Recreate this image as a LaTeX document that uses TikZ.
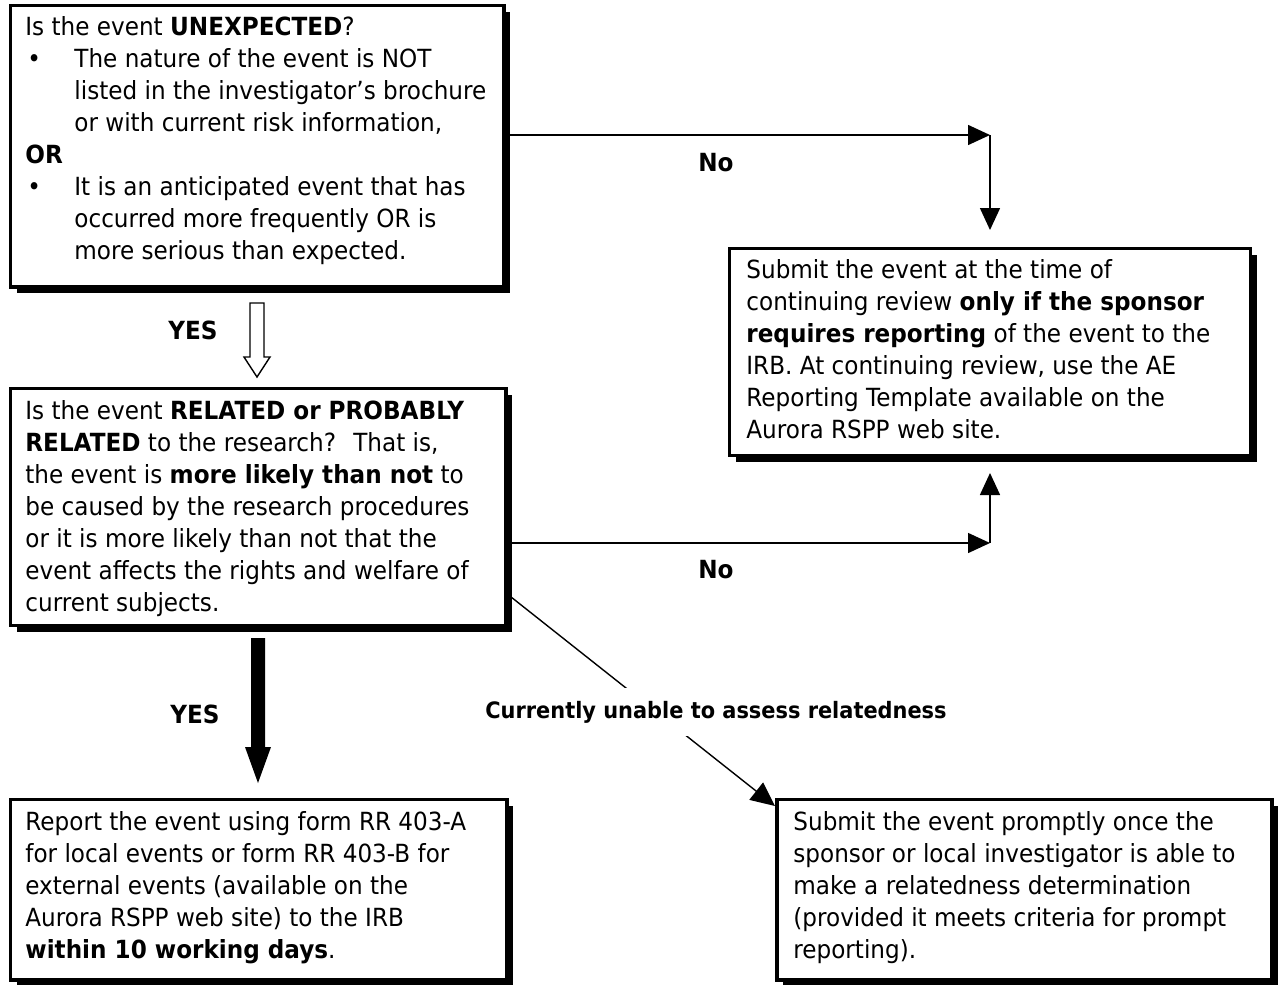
\documentclass[tikz,border=0pt]{standalone}
\usepackage{fontspec}
\setmainfont{DejaVu Sans}[FakeStretch=0.925]
\usetikzlibrary{arrows.meta,shadows,calc}
\newcommand\firststrut{\rule{0pt}{10pt}}
\newcommand\bul{\makebox[24.5pt][l]{\hspace{1pt}•}}
\newcommand\ind{\hspace*{24.5pt}}
\begin{document}
\begin{tikzpicture}[x=0.5pt,y=-0.5pt,
  box/.style={draw, line width=1.6pt, fill=white, inner sep=0pt, outer sep=0pt, anchor=north west,
    drop shadow={shadow xshift=3pt, shadow yshift=-3pt, fill=black, opacity=1}},
  txt/.style={anchor=north west, inner sep=0pt, align=left, font=\fontsize{12.5}{16}\selectfont},
  lbl/.style={font=\fontsize{12.5}{16}\selectfont\bfseries, inner sep=0pt},
  conn/.style={line width=0.75pt, -{Triangle[length=11pt,width=10pt]}},
  thin/.style={line width=0.7pt},
]
\useasboundingbox (0,0) rectangle (1280,985);

% boxes
\node[box, minimum width=246.75pt, minimum height=140.75pt] (b1) at (10.5,5.5) {};
\node[box, minimum width=260.5pt, minimum height=103.5pt] (b2) at (729.5,248.5) {};
\node[box, minimum width=247.75pt, minimum height=118.5pt] (b3) at (10.5,388.5) {};
\node[box, minimum width=248.25pt, minimum height=90.25pt] (b4) at (10.5,799.5) {};
\node[box, minimum width=247.5pt, minimum height=90.25pt] (b5) at (777,799.5) {};

% texts
\node[txt] (t1) at (25,15.5) {\firststrut Is the event \textbf{UNEXPECTED}?\\
\bul The nature of the event is NOT\\
\ind listed in the investigator’s brochure\\
\ind or with current risk information,\\
\textbf{OR}\\
\bul It is an anticipated event that has\\
\ind occurred more frequently OR is\\
\ind more serious than expected.};

\node[txt] (t2) at (746,258) {\firststrut Submit the event at the time of\\
continuing review \textbf{only if the sponsor}\\
\textbf{requires reporting} of the event to the\\
IRB. At continuing review, use the AE\\
Reporting Template available on the\\
Aurora RSPP web site.};

\node[txt] (t3) at (25,399) {\firststrut Is the event \textbf{RELATED or PROBABLY}\\
\textbf{RELATED} to the research?~ That is,\\
the event is \textbf{more likely than not} to\\
be caused by the research procedures\\
or it is more likely than not that the\\
event affects the rights and welfare of\\
current subjects.};

\node[txt] (t4) at (25,810) {\firststrut Report the event using form RR 403-A\\
for local events or form RR 403-B for\\
external events (available on the\\
Aurora RSPP web site) to the IRB\\
\textbf{within 10 working days}.};

\node[txt] (t5) at (793,810) {\firststrut Submit the event promptly once the\\
sponsor or local investigator is able to\\
make a relatedness determination\\
(provided it meets criteria for prompt\\
reporting).};

% No arrows
\coordinate (c1) at (990,135);
\coordinate (e1) at (990,230);
\draw[conn] (b1.east |- c1) -- (c1);
\draw[conn] (c1) -- (e1);
\coordinate (c2) at (990,543);
\coordinate (e2) at (990,473);
\draw[conn] (b3.east |- c2) -- (c2);
\draw[conn] (c2) -- (e2);
\node[lbl] (n1) at (716,163) {No};
\node[lbl] (n2) at (716,570) {No};

% YES arrows
\draw[thin, fill=white] (250,303) -- (264,303) -- (264,357) -- (270,357) -- (257,377) -- (244,357) -- (250,357) -- cycle;
\node[lbl] (y1) at (193,330) {YES};
\fill (251,638) -- (265,638) -- (265,747) -- (271,747) -- (258,783) -- (245,747) -- (251,747) -- cycle;
\node[lbl] (y2) at (195,714) {YES};

% diagonal
\coordinate (d1) at (0,593);
\coordinate (e3) at (775,806);
\draw[thin, -{Triangle[length=12pt,width=11pt]}] (b3.east |- d1) -- (e3);
\node[lbl, font=\fontsize{11.3}{14}\selectfont\bfseries, fill=white, minimum height=24pt, inner xsep=3pt] (l5) at (716,712) {Currently unable to assess relatedness};
\end{tikzpicture}
\end{document}
